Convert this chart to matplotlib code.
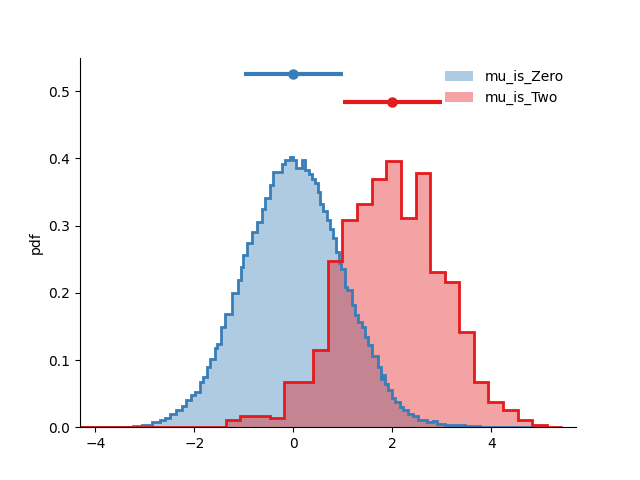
import numpy as np
import matplotlib
matplotlib.use('Agg')
import matplotlib.pyplot as plt

# histogram (edges in x, heights as pdf)
zero_edges = [-3.61, -3.24, -3.06, -2.86, -2.70, -2.60, -2.49, -2.37, -2.25, -2.17,
              -2.07, -1.99, -1.89, -1.83, -1.75, -1.69, -1.59, -1.55, -1.46, -1.38,
              -1.24, -1.12, -1.06, -1.02, -0.94, -0.84, -0.74, -0.64, -0.58, -0.47,
              -0.41, -0.23, -0.17, -0.07, 0.00, 0.05, 0.17, 0.23, 0.31, 0.37,
              0.43, 0.50, 0.54, 0.60, 0.68, 0.74, 0.80, 0.86, 0.92, 0.96,
              1.04, 1.08, 1.18, 1.24, 1.30, 1.38, 1.44, 1.51, 1.59, 1.71,
              1.77, 1.81, 1.85, 1.91, 1.99, 2.05, 2.15, 2.21, 2.31, 2.41,
              2.52, 2.70, 2.82, 2.90, 3.06, 3.46, 3.77, 4.17]
zero_pdf = [0.001, 0.002, 0.004, 0.008, 0.011, 0.014, 0.019, 0.026, 0.031, 0.040,
            0.048, 0.053, 0.067, 0.075, 0.089, 0.101, 0.118, 0.124, 0.149, 0.168,
            0.199, 0.219, 0.239, 0.256, 0.274, 0.290, 0.305, 0.324, 0.341, 0.360,
            0.380, 0.391, 0.397, 0.402, 0.397, 0.385, 0.397, 0.383, 0.377, 0.369,
            0.364, 0.350, 0.332, 0.322, 0.308, 0.295, 0.282, 0.261, 0.245, 0.235,
            0.209, 0.204, 0.182, 0.167, 0.157, 0.149, 0.134, 0.123, 0.106, 0.090,
            0.072, 0.077, 0.065, 0.055, 0.043, 0.038, 0.030, 0.025, 0.020, 0.016,
            0.011, 0.008, 0.009, 0.005, 0.003, 0.002, 0.001]

two_edges = [-1.37, -1.07, -0.78, -0.48, -0.19, 0.11, 0.40, 0.70, 0.99, 1.29,
             1.58, 1.88, 2.17, 2.47, 2.76, 3.06, 3.35, 3.65, 3.94, 4.24,
             4.53, 4.83, 5.12, 5.42]
two_pdf = [0.010, 0.016, 0.016, 0.013, 0.067, 0.067, 0.115, 0.248, 0.308, 0.332,
           0.369, 0.396, 0.311, 0.379, 0.231, 0.216, 0.141, 0.067, 0.037, 0.026,
           0.011, 0.003, 0.001]

names = ['mu_is_Zero', 'mu_is_Two']
means = [0, 2]
stds = [1, 1]
bar_y = [0.525, 0.484]
colors = ['#377eb8', '#e41a1c']

x_left, x_right = -4.31, 5.71
tail_end = [4.81, 5.42]  # where each outline stops along the baseline

fig, ax = plt.subplots(figsize=(6.4, 4.8), dpi=100)

hists = [(zero_edges, zero_pdf), (two_edges, two_pdf)]
for (edges, pdf), c, name in zip(hists, colors, names):
    ax.stairs(pdf, edges, fill=True, color=c, alpha=0.4, lw=0, label=name, zorder=1)

for (edges, pdf), c, end in zip(hists, colors, tail_end):
    ax.stairs(pdf, edges, color=c, lw=2, zorder=2)
    ax.plot([x_left, edges[0]], [0, 0], color=c, lw=2, zorder=2)
    ax.plot([edges[-1], end], [0, 0], color=c, lw=2, zorder=2)

for m, s, y, c in zip(means, stds, bar_y, colors):
    ax.errorbar(m, y, xerr=s, fmt='o', color=c, lw=3, ms=6.5, capsize=0, zorder=3)

ax.set_xlim(x_left, x_right)
ax.set_ylim(0, 0.55)
ax.set_ylabel('pdf')
ax.spines['top'].set_visible(False)
ax.spines['right'].set_visible(False)
ax.legend(frameon=False, loc='upper right')

fig.savefig('out.png', dpi=100)
